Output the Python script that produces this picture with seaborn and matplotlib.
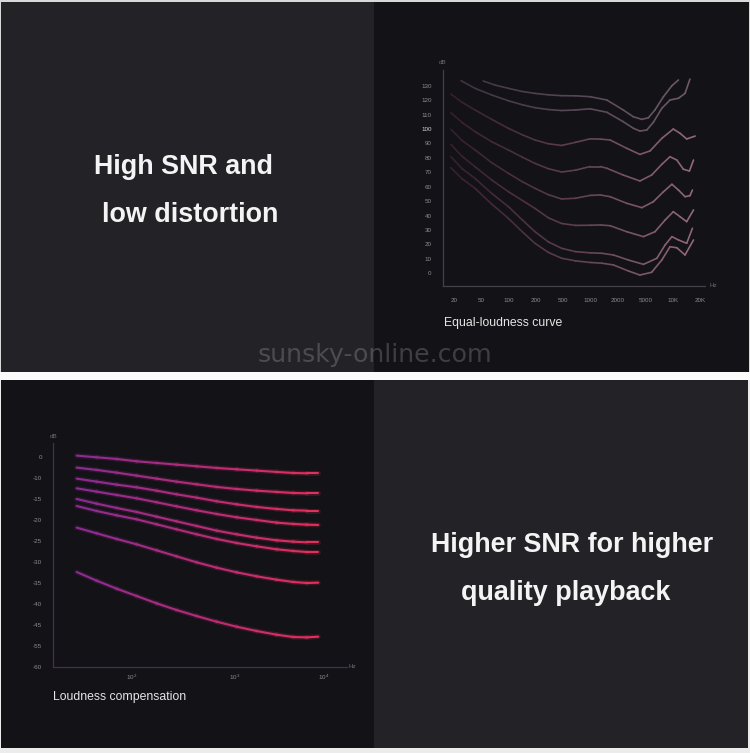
import numpy as np
import pandas as pd
import matplotlib
matplotlib.use("Agg")
import matplotlib.pyplot as plt
import seaborn as sns
from matplotlib.colors import LinearSegmentedColormap
from matplotlib.patches import Rectangle

sns.set_theme(style="white")
plt.rcParams['font.family'] = ['Liberation Sans', 'DejaVu Sans']

# ---------------- data: equal-loudness chart (x = tick index, y = dB) ----------------
eq_xlabels = ['20', '50', '100', '200', '500', '1000', '2000', '5000', '10K', '20K']
eq_yticks = [0, 10, 20, 30, 40, 50, 60, 70, 80, 90, 100, 110, 120, 130]

eq_a_x = [1.07, 1.5, 1.99, 2.5, 2.96, 3.45, 3.94, 4.45, 4.98, 5.59, 6.19, 6.56, 6.87, 7.11, 7.35, 7.66, 7.97, 8.21]
eq_a_db = [133.3, 130.5, 128.2, 126.0, 124.7, 123.7, 123.1, 123.0, 122.4, 120.1, 113.2, 108.5, 106.7, 107.8, 113.2, 122.4, 130.0, 134.0]

eq_b_x = [0.26, 0.77, 1.38, 1.99, 2.5, 2.96, 3.45, 3.94, 4.45, 4.98, 5.59, 6.19, 6.56, 6.80, 7.05, 7.29, 7.60, 7.90, 8.21, 8.45, 8.63]
eq_b_db = [133.5, 128.2, 123.6, 119.6, 116.8, 114.8, 113.5, 112.8, 113.2, 114.0, 111.6, 105.1, 100.5, 98.6, 99.3, 104.6, 114.3, 120.1, 121.3, 124.7, 134.6]

eq_c_x = [-0.11, 0.3, 0.77, 1.38, 1.99, 2.5, 2.96, 3.45, 3.94, 4.45, 4.98, 5.35, 5.71, 6.32, 6.80, 7.17, 7.60, 8.02, 8.27, 8.51, 8.82]
eq_c_db = [124.2, 118.5, 113.2, 106.7, 100.5, 96.0, 92.4, 89.8, 88.6, 90.8, 93.2, 93.0, 92.4, 86.6, 82.4, 84.8, 93.5, 100.0, 97.0, 93.1, 95.1]

eq_d_x = [-0.11, 0.3, 0.77, 1.38, 1.99, 2.5, 2.96, 3.45, 3.94, 4.45, 4.98, 5.35, 5.59, 6.19, 6.80, 7.23, 7.60, 7.90, 8.15, 8.39, 8.61, 8.76]
eq_d_db = [111.3, 104.5, 98.2, 91.2, 85.5, 80.5, 76.2, 72.5, 70.2, 71.5, 74.0, 74.0, 72.8, 68.1, 64.0, 68.1, 75.5, 80.8, 78.5, 72.1, 70.9, 78.5]

eq_e_x = [-0.11, 0.3, 0.77, 1.38, 1.99, 2.5, 2.96, 3.45, 3.94, 4.45, 4.98, 5.35, 5.71, 6.32, 6.87, 7.29, 7.66, 7.97, 8.21, 8.45, 8.63, 8.72]
eq_e_db = [99.8, 92.0, 85.5, 76.7, 69.3, 63.5, 58.9, 54.5, 51.5, 52.0, 54.0, 54.3, 53.1, 48.5, 45.5, 49.6, 56.5, 61.7, 57.7, 53.1, 53.8, 57.7]

eq_f_x = [-0.11, 0.3, 0.77, 1.38, 1.99, 2.5, 2.96, 3.45, 3.94, 4.45, 4.98, 5.35, 5.71, 6.32, 6.93, 7.35, 7.72, 8.02, 8.27, 8.51, 8.76]
eq_f_db = [89.4, 81.0, 73.9, 64.7, 56.6, 50.5, 45.0, 38.5, 34.5, 33.2, 33.3, 33.5, 33.0, 28.8, 25.4, 28.8, 36.9, 42.7, 39.2, 35.8, 43.9]

eq_g_x = [-0.11, 0.3, 0.77, 1.38, 1.99, 2.5, 2.96, 3.45, 3.94, 4.45, 4.98, 5.4, 5.83, 6.38, 6.93, 7.42, 7.72, 7.97, 8.21, 8.51, 8.72]
eq_g_db = [80.8, 72.5, 65.8, 55.4, 46.2, 37.0, 28.9, 21.8, 17.3, 15.0, 14.2, 13.9, 12.7, 9.2, 6.2, 10.4, 19.6, 25.4, 23.1, 20.8, 31.2]

eq_h_x = [-0.11, 0.3, 0.77, 1.38, 1.99, 2.5, 2.96, 3.45, 3.94, 4.45, 4.98, 5.4, 5.83, 6.38, 6.80, 7.23, 7.60, 7.90, 8.15, 8.45, 8.76]
eq_h_db = [73.2, 65.5, 58.9, 48.0, 38.1, 28.8, 20.8, 14.5, 10.4, 8.6, 7.5, 7.0, 5.8, 1.6, -1.2, 0.7, 9.2, 18.4, 17.7, 12.7, 23.1]

# ---------------- data: loudness compensation chart ----------------
lc_ytick_pos = [0, -5, -10, -15, -20, -25, -30, -35, -40, -45, -50]
lc_ytick_labels = ['0', '-10', '-15', '-20', '-25', '-30', '-35', '-40', '-45', '-55', '-60']
lc_xtick_pos = [2.0, 3.0, 3.855]
lc_xtick_labels = [r'$\mathregular{10^{2}}$', r'$\mathregular{10^{3}}$', r'$\mathregular{10^{4}}$']

lc_x = [1.468, 1.661, 1.855, 2.048, 2.242, 2.435, 2.629, 2.823, 3.016, 3.210, 3.403, 3.565, 3.694, 3.806]
lc_1 = [0.24, -0.16, -0.56, -1.11, -1.51, -1.90, -2.30, -2.70, -3.02, -3.33, -3.65, -3.89, -3.97, -3.97]
lc_2 = [-2.62, -3.17, -3.81, -4.52, -5.24, -5.95, -6.59, -7.22, -7.70, -8.10, -8.41, -8.65, -8.73, -8.73]
lc_3 = [-5.24, -5.95, -6.67, -7.30, -8.10, -8.97, -9.76, -10.63, -11.35, -11.98, -12.46, -12.78, -12.86, -12.86]
lc_4 = [-7.54, -8.33, -9.13, -9.92, -10.87, -11.83, -12.78, -13.65, -14.44, -15.08, -15.71, -16.03, -16.19, -16.27]
lc_5 = [-10.08, -11.19, -12.22, -13.17, -14.29, -15.40, -16.51, -17.62, -18.49, -19.29, -19.92, -20.24, -20.40, -20.40]
lc_6 = [-11.75, -12.94, -13.97, -14.92, -16.11, -17.30, -18.49, -19.60, -20.56, -21.35, -22.06, -22.46, -22.70, -22.70]
lc_7 = [-16.90, -18.25, -19.60, -20.87, -22.30, -23.73, -25.16, -26.43, -27.54, -28.49, -29.29, -29.84, -30.08, -30.00]
lc_8 = [-27.46, -29.52, -31.43, -33.17, -34.92, -36.51, -37.94, -39.29, -40.48, -41.51, -42.38, -42.94, -43.02, -42.86]


def segments(curves, xmin, xmax):
    rows = []
    sid = 0
    for cx, cy in curves:
        for i in range(len(cx) - 1):
            t = ((cx[i] + cx[i + 1]) / 2 - xmin) / (xmax - xmin)
            for j in (i, i + 1):
                rows.append({'x': cx[j], 'y': cy[j], 't': t, 'sid': sid})
            sid += 1
    return pd.DataFrame(rows)


W, H = 750, 753
fig = plt.figure(figsize=(7.5, 7.53), dpi=100)
fig.patch.set_facecolor('#ececec')

bg = fig.add_axes([0, 0, 1, 1])
bg.set_xlim(0, W)
bg.set_ylim(H, 0)
bg.axis('off')
LIGHT = '#232227'
DARK = '#131217'
bg.add_patch(Rectangle((0, 0), W, 372, color='#d8d8d8', lw=0))
bg.add_patch(Rectangle((1, 2), 373.3, 370, color=LIGHT, lw=0))
bg.add_patch(Rectangle((374.3, 2), 374.7, 370, color=DARK, lw=0))
bg.add_patch(Rectangle((0, 372), W, 8, color='#fbfbfb', lw=0))
bg.add_patch(Rectangle((1, 380), 373, 368, color=DARK, lw=0))
bg.add_patch(Rectangle((374, 380), 373.5, 368, color=LIGHT, lw=0))

head_kw = dict(color='#f4f4f4', fontsize=19.4, fontweight='bold', ha='center', va='baseline',
               family=['Liberation Sans', 'DejaVu Sans'])
bg.text(183.8, 174.3, 'High SNR and', **head_kw)
bg.text(189.9, 221.7, 'low distortion', **head_kw)
bg.text(572.2, 551.7, 'Higher SNR for higher', **head_kw)
bg.text(565.8, 600.0, 'quality playback', **head_kw)

cap_kw = dict(color='#e6e6e6', fontsize=8.8, ha='left', va='center')
bg.text(444.3, 322.7, 'Equal-loudness curve', **cap_kw)
bg.text(53.3, 696.7, 'Loudness compensation', **cap_kw)

small_kw = dict(color='#6e6c74', fontsize=4.5, ha='center', va='center')
bg.text(443, 62, 'dB', **small_kw)
bg.text(713, 285.7, 'Hz', **small_kw)
bg.text(53.3, 436.7, 'dB', **small_kw)
bg.text(352.5, 666.5, 'Hz', **small_kw)

# ---------------- top chart ----------------
ax1 = fig.add_axes([442.7 / W, 1 - 285.7 / H, (705 - 442.7) / W, (285.7 - 70) / H])
ax1.set_facecolor('none')
grey_cmap = LinearSegmentedColormap.from_list('g', ['#3a3240', '#705a66'])
pink_cmap = LinearSegmentedColormap.from_list('p', ['#361e2c', '#5c3e4e', '#93697a'])
df_top_grey = segments([(eq_a_x, eq_a_db), (eq_b_x, eq_b_db)], -0.2, 8.8)
df_top_pink = segments([(eq_c_x, eq_c_db), (eq_d_x, eq_d_db), (eq_e_x, eq_e_db),
                        (eq_f_x, eq_f_db), (eq_g_x, eq_g_db), (eq_h_x, eq_h_db)], -0.2, 8.8)
for d, cm in ((df_top_grey, grey_cmap), (df_top_pink, pink_cmap)):
    sns.lineplot(data=d, x='x', y='y', hue='t', units='sid', estimator=None, palette=cm,
                 hue_norm=(0, 1), legend=False, lw=1.2, solid_capstyle='round', ax=ax1)
ax1.set_xlim(-0.41, 9.18)
ax1.set_ylim(-8.6, 140.9)
ax1.set_xticks(range(len(eq_xlabels)))
ax1.set_xticklabels(eq_xlabels)
ax1.set_yticks(eq_yticks)
ax1.set_yticklabels([str(v) for v in eq_yticks])
ax1.set_xlabel('')
ax1.set_ylabel('')
for s in ('top', 'right'):
    ax1.spines[s].set_visible(False)
for s in ('left', 'bottom'):
    ax1.spines[s].set_color('#45414b')
    ax1.spines[s].set_linewidth(0.9)
ax1.tick_params(axis='both', length=0, labelsize=4.5, labelcolor='#8e8c94')
ax1.tick_params(axis='y', pad=7.9)
ax1.tick_params(axis='x', pad=8.6)
for lab in ax1.get_yticklabels():
    if lab.get_text() == '100':
        lab.set_color('#d8d8dc')

# ---------------- bottom chart ----------------
ax2 = fig.add_axes([53.3 / W, 1 - 666.7 / H, (346.7 - 53.3) / W, (666.7 - 443.3) / H])
ax2.set_facecolor('none')
lc_cmap = LinearSegmentedColormap.from_list('lc', ['#8a2c92', '#b42c78', '#e4305a'])
df_lc = segments([(lc_x, c) for c in (lc_1, lc_2, lc_3, lc_4, lc_5, lc_6, lc_7, lc_8)],
                 lc_x[0], lc_x[-1])
sns.lineplot(data=df_lc, x='x', y='y', hue='t', units='sid', estimator=None, palette=lc_cmap,
             hue_norm=(0, 1), legend=False, lw=3.6, alpha=0.18, solid_capstyle='round', ax=ax2)
sns.lineplot(data=df_lc, x='x', y='y', hue='t', units='sid', estimator=None, palette=lc_cmap,
             hue_norm=(0, 1), legend=False, lw=1.5, solid_capstyle='round', ax=ax2)
ax2.set_xlim(1.242, 4.081)
ax2.set_ylim(-50.0, 3.17)
ax2.set_xticks(lc_xtick_pos)
ax2.set_xticklabels(lc_xtick_labels)
ax2.set_yticks(lc_ytick_pos)
ax2.set_yticklabels(lc_ytick_labels)
ax2.set_xlabel('')
ax2.set_ylabel('')
for s in ('top', 'right'):
    ax2.spines[s].set_visible(False)
for s in ('left', 'bottom'):
    ax2.spines[s].set_color('#3c3842')
    ax2.spines[s].set_linewidth(0.9)
ax2.tick_params(axis='both', length=0, labelsize=4.5, labelcolor='#8e8c94')
ax2.tick_params(axis='y', pad=7.9)
ax2.tick_params(axis='x', pad=4.0)

# watermark
fig.text(375 / W, 1 - 361.7 / H, 'sunsky-online.com', color='white', alpha=0.19,
         fontsize=18.2, ha='center', va='baseline', family=['DejaVu Sans'], zorder=10)

fig.savefig('out.png', dpi=100, facecolor=fig.get_facecolor())
